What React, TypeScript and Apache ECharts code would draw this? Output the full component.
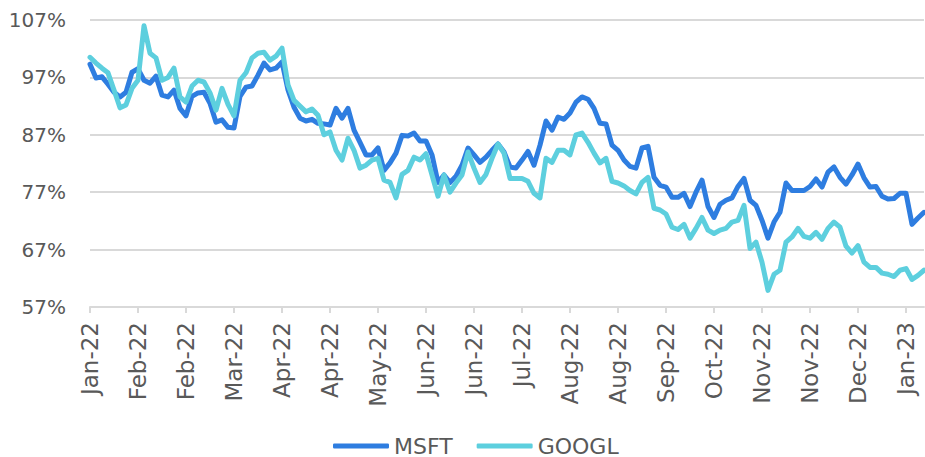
import React, { useEffect, useRef } from "react";
import * as echarts from "echarts";

const tickLabels = [
  "Jan-22", "Feb-22", "Feb-22", "Mar-22", "Apr-22", "Apr-22", "May-22", "Jun-22", "Jun-22",
  "Jul-22", "Aug-22", "Aug-22", "Sep-22", "Oct-22", "Nov-22", "Nov-22", "Dec-22", "Jan-23",
];

const msft = [
  99.3, 96.9, 97.1, 95.8, 94.4, 93.6, 94.4, 97.9, 98.5, 96.5,
  96.0, 97.2, 93.9, 93.6, 94.8, 91.6, 90.3, 93.7, 94.3, 94.4,
  92.5, 89.2, 89.6, 88.3, 88.2, 93.7, 95.3, 95.5, 97.4, 99.5,
  98.3, 98.6, 99.7, 94.8, 91.8, 89.9, 89.4, 89.7, 89.0, 88.9,
  88.7, 91.6, 89.9, 91.6, 87.8, 85.7, 83.5, 83.5, 84.7, 80.8,
  82.1, 83.8, 86.9, 86.8, 87.3, 85.9, 85.9, 83.5, 78.7, 80.0,
  78.7, 79.8, 81.7, 84.7, 83.5, 82.2, 83.1, 84.3, 85.4, 84.0,
  81.4, 81.2, 82.6, 84.1, 81.7, 85.2, 89.4, 87.8, 90.1, 89.7,
  90.8, 92.7, 93.6, 93.2, 91.6, 89.0, 88.9, 85.2, 84.3, 82.6,
  81.5, 81.2, 84.7, 85.0, 79.6, 78.2, 77.9, 76.1, 76.1, 76.8,
  74.5, 77.0, 79.1, 74.5, 72.6, 74.9, 75.6, 76.0, 78.0, 79.4,
  75.6, 74.7, 72.1, 69.0, 71.8, 73.5, 78.6, 77.3, 77.3, 77.3,
  78.0, 79.3, 77.9, 80.5, 81.4, 79.6, 78.4, 80.0, 81.9, 79.5,
  77.9, 78.0, 76.3, 75.8, 75.9, 76.8, 76.8, 71.4, 72.5, 73.5,
];

const googl = [
  100.5, 99.5, 98.6, 97.8, 94.8, 91.7, 92.2, 95.1, 96.5, 106.0,
  101.2, 100.4, 96.5, 97.0, 98.6, 93.6, 92.7, 95.5, 96.5, 96.2,
  94.3, 91.3, 95.1, 92.3, 90.3, 96.5, 97.8, 100.4, 101.2, 101.4,
  100.0, 100.7, 102.1, 95.7, 93.0, 92.0, 91.0, 91.5, 90.4, 87.0,
  87.5, 84.3, 82.6, 86.4, 84.3, 81.2, 81.7, 82.6, 82.9, 79.1,
  78.7, 76.0, 80.1, 80.8, 83.1, 82.6, 83.7, 80.0, 76.3, 80.0,
  77.0, 78.6, 80.0, 84.0, 81.2, 78.7, 80.1, 82.9, 85.4, 83.8,
  79.4, 79.4, 79.4, 78.9, 76.8, 76.0, 82.9, 82.2, 84.3, 84.3,
  83.5, 87.0, 87.3, 85.7, 83.8, 82.1, 82.9, 78.9, 78.6, 78.1,
  77.3, 76.7, 78.7, 79.6, 74.2, 73.9, 73.2, 70.9, 70.5, 71.4,
  69.0, 70.7, 72.6, 70.4, 69.8, 70.4, 70.7, 71.8, 72.1, 74.7,
  67.2, 68.3, 64.8, 59.9, 62.7, 63.4, 68.3, 69.2, 70.7, 69.3,
  69.0, 70.0, 68.8, 70.7, 71.8, 70.9, 67.6, 66.4, 67.7, 64.8,
  63.9, 63.9, 62.9, 62.7, 62.3, 63.4, 63.7, 61.8, 62.5, 63.4,
];

const LABEL_STEP = 8;
const categories = msft.map((_, i) => String(i));

export default function App() {
  const ref = useRef<HTMLDivElement>(null);
  useEffect(() => {
    document.body.style.margin = "0";
    if (!ref.current) return;
    const chart = echarts.init(ref.current, null, { renderer: "svg" });
    const gray = "#d9d9d9";
    const textColor = "#595959";
    const font = "'DejaVu Sans', sans-serif";
    chart.setOption({
      animation: false,
      grid: { left: 90, right: 1, top: 20, bottom: 150, containLabel: false },
      legend: {
        data: ["MSFT", "GOOGL"],
        left: 333,
        top: 435,
        padding: 0,
        icon: "roundRect",
        itemWidth: 56,
        itemHeight: 5,
        itemGap: 24,
        textStyle: { fontSize: 22, lineHeight: 22, color: textColor, fontFamily: font },
      },
      xAxis: {
        type: "category",
        data: categories,
        boundaryGap: false,
        axisLine: { show: true, lineStyle: { color: gray, width: 2 } },
        axisTick: { show: true, interval: LABEL_STEP - 1, length: 6, lineStyle: { color: gray, width: 2 } },
        axisLabel: {
          interval: LABEL_STEP - 1,
          rotate: 90,
          margin: 15,
          fontSize: 23,
          color: textColor,
          fontFamily: font,
          formatter: (_v: string, idx: number) => tickLabels[Math.round(idx / LABEL_STEP)] ?? "",
        },
        splitLine: { show: false },
      },
      yAxis: {
        type: "value",
        min: 57,
        max: 107,
        interval: 10,
        axisLine: { show: false },
        axisTick: { show: false },
        axisLabel: {
          formatter: (v: number) => `${v}%`,
          fontSize: 20,
          color: textColor,
          fontFamily: font,
          margin: 24,
        },
        splitLine: { lineStyle: { color: gray, width: 2 } },
      },
      series: [
        {
          name: "MSFT",
          type: "line",
          data: msft,
          showSymbol: false,
          symbol: "none",
          color: "#2E7DE0",
          lineStyle: { width: 5, color: "#2E7DE0", cap: "round", join: "round" },
        },
        {
          name: "GOOGL",
          type: "line",
          data: googl,
          showSymbol: false,
          symbol: "none",
          color: "#5DCFDE",
          lineStyle: { width: 5, color: "#5DCFDE", cap: "round", join: "round" },
        },
      ],
    });
    return () => chart.dispose();
  }, []);
  return <div ref={ref} style={{ width: 925, height: 457 }} />;
}
